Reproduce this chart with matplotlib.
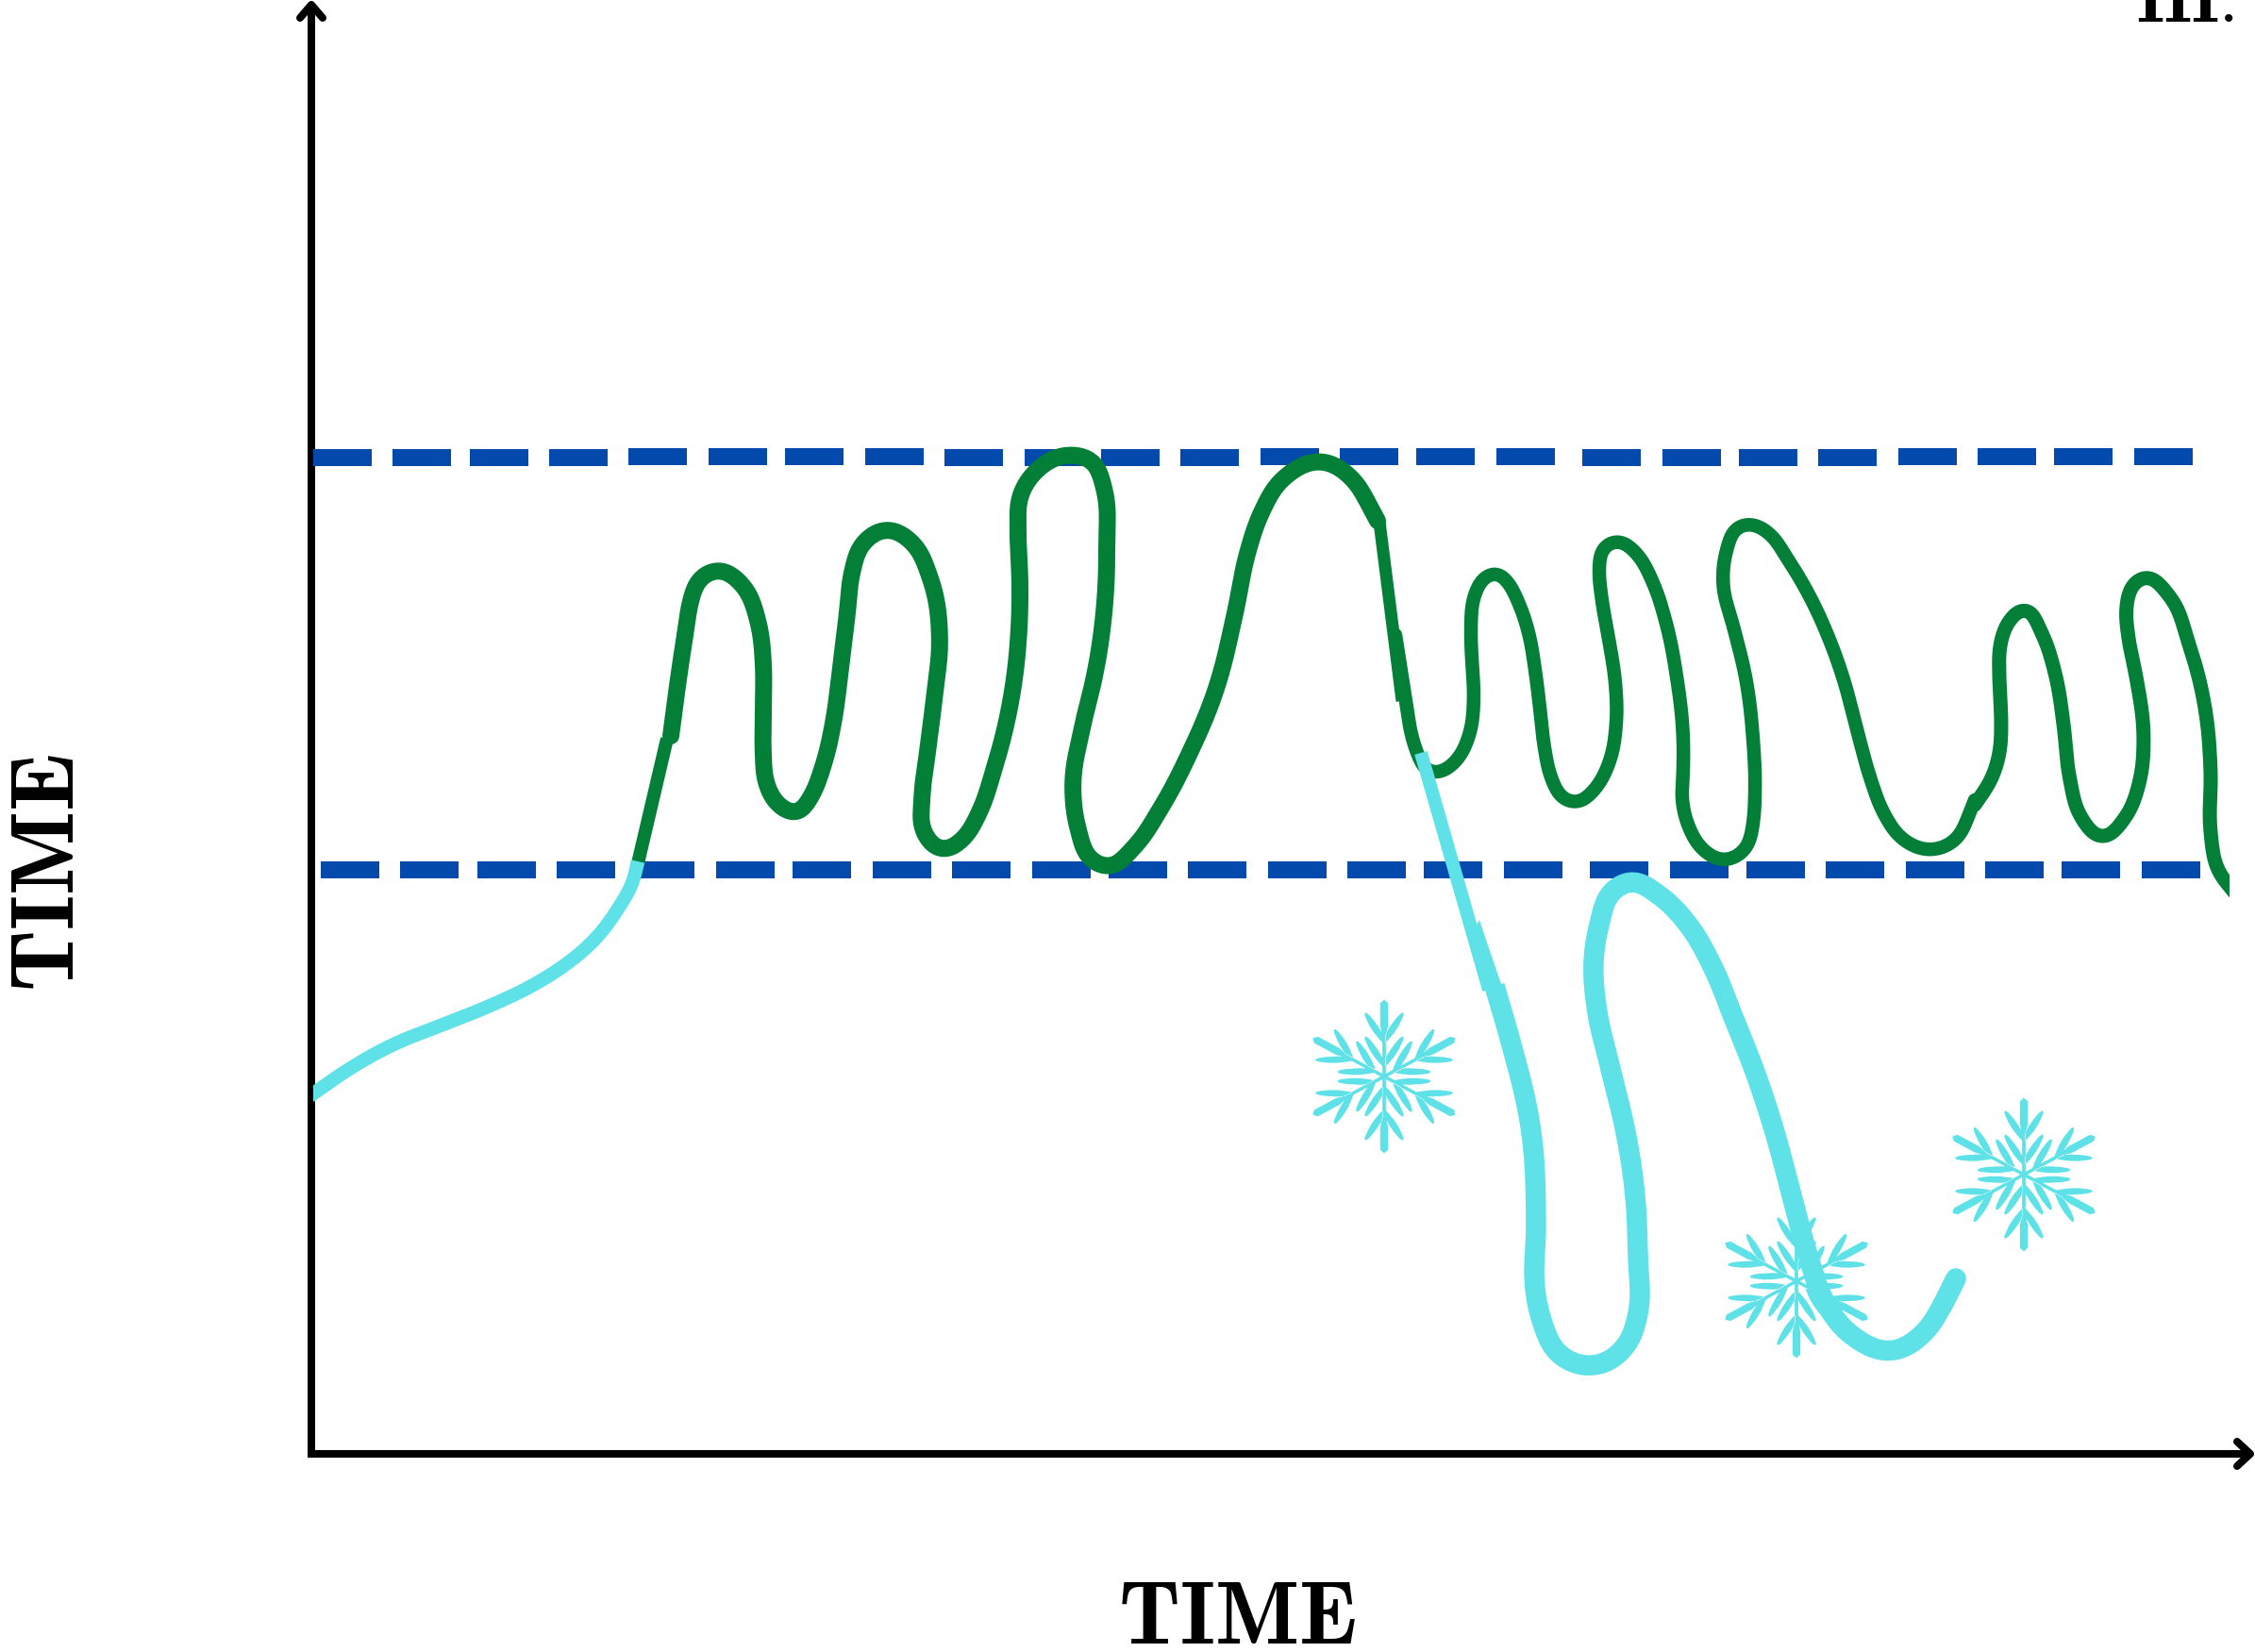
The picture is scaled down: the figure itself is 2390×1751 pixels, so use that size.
import matplotlib
matplotlib.use("Agg")
import matplotlib.pyplot as plt
import numpy as np
from matplotlib.path import Path
from matplotlib.patches import PathPatch, Rectangle
from matplotlib.transforms import Affine2D

plt.rcParams['mathtext.fontset'] = 'cm'

BLUE = "#034aac"
GREEN = "#037f37"
CYAN = "#5ee2e8"

# all values, in picture pixels (y downwards)
upper_dash_x = [332, 416, 498, 582, 666, 751, 832, 917, 1001, 1086, 1167, 1251, 1336,
                1420, 1501, 1586, 1677, 1762, 1843, 1927, 2012, 2096, 2177, 2262]
upper_dash_y = [485, 485, 485, 485, 484, 484, 484, 484, 485, 485, 485, 485, 484,
                484, 484, 484, 485, 485, 485, 485, 484, 484, 484, 484]
lower_dash_x = [340, 424, 506, 590, 674, 759, 840, 925, 1009, 1094, 1175, 1259, 1344,
                1428, 1509, 1594, 1685, 1770, 1851, 1935, 2020, 2104, 2185, 2270]
lower_dash_y = [922] * 24

green_rise = [(673, 928), (707, 783)]
green_main = [(711, 780), (718, 727), (727, 667), (732, 637), (742, 613), (761, 604),
              (787, 620), (803, 657), (809, 703), (809, 750), (809, 800), (812, 830),
              (827, 855), (845, 862), (858, 847), (872, 813), (883, 767), (891, 707),
              (898, 650), (903, 607), (915, 575), (940, 561), (967, 575), (985, 610),
              (996, 680), (991, 733), (984, 790), (977, 850), (978, 880), (1000, 901),
              (1020, 890), (1037, 863), (1053, 817), (1070, 750), (1080, 667), (1081, 617),
              (1079, 563), (1082, 523), (1097, 500), (1133, 482), (1157, 488), (1170, 517),
              (1173, 577), (1170, 650), (1160, 717), (1148, 767), (1137, 837), (1143, 880),
              (1157, 912), (1175, 919), (1200, 900), (1230, 857), (1260, 800), (1288, 733),
              (1309, 650), (1323, 583), (1337, 543), (1360, 507), (1402, 489), (1433, 507),
              (1452, 537), (1460, 552)]
green_fall = [(1462, 553), (1486, 743)]
green_tail = [(1479, 673), (1490, 743), (1497, 783), (1504, 803), (1513, 818), (1525, 819),
              (1543, 807), (1557, 780), (1562, 740), (1560, 700), (1559, 667), (1563, 630),
              (1573, 612), (1588, 607), (1595, 613), (1610, 640), (1620, 670), (1627, 710),
              (1632, 750), (1637, 793), (1645, 827), (1657, 847), (1671, 851), (1690, 837),
              (1705, 810), (1713, 767), (1712, 723), (1705, 677), (1698, 637), (1695, 600),
              (1698, 582), (1713, 573), (1735, 587), (1750, 613), (1765, 657), (1777, 717),
              (1784, 783), (1784, 817), (1783, 850), (1790, 877), (1804, 900), (1828, 912),
              (1850, 900), (1858, 873), (1860, 843), (1858, 783), (1850, 717), (1838, 667),
              (1826, 617), (1830, 583), (1842, 558), (1854, 555), (1875, 565), (1893, 590),
              (1917, 630), (1937, 673), (1953, 717), (1969, 777), (1983, 827), (1997, 863),
              (2017, 890), (2046, 901), (2073, 890), (2087, 863), (2093, 848)]
green_end = [(2093, 853), (2110, 827), (2120, 793), (2121, 767), (2119, 717), (2120, 683),
             (2128, 660), (2147, 645), (2162, 667), (2178, 713), (2187, 767), (2194, 827),
             (2206, 867), (2229, 888), (2250, 870), (2268, 827), (2272, 783), (2264, 717),
             (2256, 677), (2254, 640), (2260, 620), (2273, 611), (2298, 630), (2320, 683),
             (2337, 750), (2343, 817), (2343, 883), (2351, 923), (2370, 948)]

cyan_start = [(328, 1162), (367, 1135), (417, 1107), (467, 1087), (517, 1067), (567, 1043),
              (600, 1022), (633, 993), (657, 960), (670, 937), (676, 913)]
cyan_drop = [(1506, 798), (1578, 1049)]
cyan_wedge_x = [1568, 1578, 1590, 1596, 1576, 1560]
cyan_wedge_y = [975, 1005, 1040, 1055, 1055, 990]
cyan_loop = [(1584, 1045), (1600, 1100), (1623, 1200), (1628, 1300), (1627, 1367), (1634, 1400),
             (1654, 1437), (1693, 1447), (1723, 1427), (1736, 1393), (1736, 1333), (1733, 1267),
             (1723, 1200), (1707, 1133), (1692, 1067), (1689, 1017), (1695, 980), (1710, 943),
             (1729, 934), (1756, 947), (1787, 977), (1814, 1022), (1837, 1078), (1860, 1136),
             (1881, 1200), (1899, 1267), (1917, 1333), (1934, 1380), (1962, 1415), (2006, 1432),
             (2039, 1413), (2059, 1383), (2073, 1355)]

flake_x = [1467, 1904, 2145]
flake_y = [1141, 1358, 1245]

time_label = "TIME"
corner_label = "III."


def px(w):
    return w * 72 / 100


def smooth(pts, sigma=8.0):
    # pen line through the read points: bezier spline, arc-length resample, small gaussian to take out reading noise
    pts = np.array(pts, dtype=float)
    if len(pts) < 3:
        return pts
    d = np.hypot(*np.diff(pts, axis=0).T)
    t = np.zeros_like(pts)
    t[0] = (pts[1] - pts[0]) / d[0]
    t[-1] = (pts[-1] - pts[-2]) / d[-1]
    for i in range(1, len(pts) - 1):
        a = (pts[i] - pts[i - 1]) / d[i - 1]
        b = (pts[i + 1] - pts[i]) / d[i]
        m = a * d[i] + b * d[i - 1]
        t[i] = m / np.hypot(*m)
    w = np.linspace(0, 1, 16)[:, None]
    dense = [pts[:1]]
    for i in range(len(pts) - 1):
        c1 = pts[i] + t[i] * d[i] * 0.36
        c2 = pts[i + 1] - t[i + 1] * d[i] * 0.36
        seg = (1 - w) ** 3 * pts[i] + 3 * (1 - w) ** 2 * w * c1 + 3 * (1 - w) * w ** 2 * c2 + w ** 3 * pts[i + 1]
        dense.append(seg[1:])
    dense = np.vstack(dense)
    s = np.concatenate([[0], np.cumsum(np.hypot(*np.diff(dense, axis=0).T))])
    u = np.append(np.arange(0, s[-1], 2.0), s[-1])
    xy = np.column_stack([np.interp(u, s, dense[:, 0]), np.interp(u, s, dense[:, 1])])
    n = int(3 * sigma / 2)
    k = np.exp(-0.5 * (np.arange(-n, n + 1) * 2.0 / sigma) ** 2)
    k /= k.sum()
    # point-mirrored ends so the end points stay where they are
    head = 2 * xy[0] - xy[n:0:-1]
    tail = 2 * xy[-1] - xy[-2:-n - 2:-1]
    full = np.vstack([head, xy, tail])
    return np.column_stack([np.convolve(full[:, 0], k, mode="valid"), np.convolve(full[:, 1], k, mode="valid")])


def stroke(pts, color, width, cap="round", clip=None):
    xy = smooth(pts)
    line, = ax.plot(xy[:, 0], xy[:, 1], color=color, lw=px(width), solid_capstyle=cap, solid_joinstyle="round")
    if clip is not None:
        line.set_clip_path(Rectangle((clip[0], 0), clip[1] - clip[0], 1751, transform=ax.transData))


def leaf(y0):
    # one pair of curved side leaves on an arm, arm points up, y0 is the base
    v, c = [], []
    for s in (1, -1):
        v += [(s * 1.5, y0), (s * 15, y0 - 14), (s * 20, y0 - 31), (s * 19, y0 - 33), (s * 16, y0 - 31),
              (s * 7, y0 - 21), (s * 1.5, y0 - 9), (s * 1.5, y0)]
        c += [Path.MOVETO, Path.CURVE3, Path.CURVE3, Path.LINETO, Path.LINETO,
              Path.CURVE3, Path.CURVE3, Path.CLOSEPOLY]
    return v, c


def snowflake(cx, cy):
    for k in range(6):
        v, c = leaf(-11)
        v2, c2 = leaf(-37)
        v = v + v2 + [(-1.8, 0), (-1.8, -45), (-4, -55), (-4, -80), (0, -84), (4, -80), (4, -55),
                      (1.8, -45), (1.8, 0), (-1.8, 0)]
        c = c + c2 + [Path.MOVETO] + [Path.LINETO] * 8 + [Path.CLOSEPOLY]
        arm = Path(v, c).transformed(Affine2D().rotate_deg(60 * k).scale(1.04, 0.97).translate(cx, cy))
        ax.add_patch(PathPatch(arm, facecolor=CYAN, edgecolor="none", zorder=3))


fig = plt.figure(figsize=(23.9, 17.51), dpi=100)
ax = fig.add_axes([0, 0, 1, 1])
ax.set_xlim(0, 2390)
ax.set_ylim(1751, 0)
ax.axis("off")

# axes with arrows
ax.plot([330, 330, 2385], [5, 1541, 1541], color="k", lw=px(8), solid_joinstyle="miter", solid_capstyle="butt")
ax.plot([318, 330, 342], [19, 5, 19], color="k", lw=px(8), solid_capstyle="round", solid_joinstyle="round")
ax.plot([2371, 2385, 2371], [1528, 1541, 1554], color="k", lw=px(8), solid_capstyle="round", solid_joinstyle="round")

# dashed limits
for x, y in zip(upper_dash_x, upper_dash_y):
    ax.plot([x, x + 62], [y, y], color=BLUE, lw=px(18), solid_capstyle="butt")
for x, y in zip(lower_dash_x, lower_dash_y):
    ax.plot([x, x + 62], [y, y], color=BLUE, lw=px(18), solid_capstyle="butt")

# green curve
stroke(green_rise, GREEN, 14, cap="butt")
stroke(green_main, GREEN, 18)
stroke(green_fall, GREEN, 13, cap="butt")
stroke(green_tail, GREEN, 14.5, clip=(0, 2363))
stroke(green_end, GREEN, 15, clip=(0, 2363))

# cyan curve
stroke(cyan_start, CYAN, 14.5, cap="butt", clip=(332, 2390))
stroke(cyan_drop, CYAN, 14, cap="butt")
ax.fill(cyan_wedge_x, cyan_wedge_y, color=CYAN, lw=0)
stroke(cyan_loop, CYAN, 21.5, cap="butt")
stroke(cyan_loop[-2:], CYAN, 21.5)

for x, y in zip(flake_x, flake_y):
    snowflake(x, y)

# labels
tfont = 67.5
ax.text(1311, 1742, r"$\mathbf{%s}$" % time_label, fontsize=tfont, ha="center", va="baseline", color="k")
ax.text(78, 925, r"$\mathbf{%s}$" % time_label, fontsize=tfont, ha="center", va="baseline", rotation=90,
        rotation_mode="anchor", color="k")
ax.text(2316, 23, r"$\mathbf{%s}$" % corner_label, fontsize=53, ha="center", va="baseline", color="k")

fig.savefig("out.png", dpi=100)
